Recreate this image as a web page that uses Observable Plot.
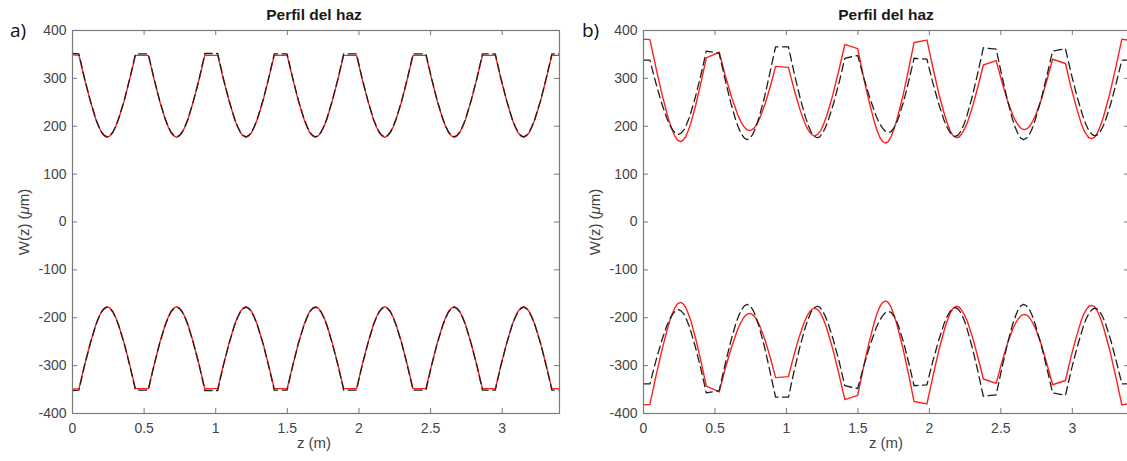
<!DOCTYPE html>
<html>
<head>
<meta charset="utf-8">
<script src="https://cdn.jsdelivr.net/npm/d3@7"></script>
<script src="https://cdn.jsdelivr.net/npm/@observablehq/plot@0.6"></script>
<style>
  html, body { margin: 0; padding: 0; background: #fff; overflow: hidden; }
  #wrap { position: relative; width: 1127px; height: 461px; overflow: hidden; background: #fff; }
  #wrap > svg.panel { position: absolute; top: 0; }
  #overlay { position: absolute; left: 0; top: 0; pointer-events: none; }
</style>
</head>
<body>
<div id="wrap"></div>
<script>
// ---------- data ----------
const xTicks = [0, 0.5, 1, 1.5, 2, 2.5, 3];
const yTicks = [-400, -300, -200, -100, 0, 100, 200, 300, 400];
const panelTitle = "Perfil del haz";
const panelTags = ["a)", "b)"];

// panel a) : beam radius W(z) (upper edge; lower edge is its mirror)
const zA = [0, 0.045,
  0.084, 0.124, 0.163, 0.183, 0.203, 0.222, 0.242, 0.262, 0.282, 0.301, 0.321, 0.361, 0.400, 0.4395, 0.5295,
  0.569, 0.608, 0.648, 0.668, 0.687, 0.707, 0.727, 0.747, 0.766, 0.786, 0.806, 0.845, 0.885, 0.924, 1.014,
  1.053, 1.093, 1.132, 1.152, 1.172, 1.191, 1.211, 1.231, 1.251, 1.270, 1.290, 1.330, 1.369, 1.4085, 1.4985,
  1.538, 1.577, 1.617, 1.637, 1.656, 1.676, 1.696, 1.716, 1.735, 1.755, 1.775, 1.814, 1.854, 1.893, 1.983,
  2.022, 2.062, 2.101, 2.121, 2.141, 2.160, 2.180, 2.200, 2.220, 2.239, 2.259, 2.299, 2.338, 2.3775, 2.4675,
  2.507, 2.546, 2.586, 2.606, 2.625, 2.645, 2.665, 2.685, 2.704, 2.724, 2.744, 2.783, 2.823, 2.862, 2.952,
  2.991, 3.031, 3.070, 3.090, 3.110, 3.129, 3.149, 3.169, 3.189, 3.208, 3.228, 3.268, 3.307, 3.3465, 3.4];
const wA_black = [352, 351,
  300, 254, 215, 200, 188, 181, 178, 181, 188, 200, 215, 254, 300, 351, 351,
  300, 254, 215, 200, 188, 181, 178, 181, 188, 200, 215, 254, 300, 352, 352,
  300, 254, 215, 200, 188, 181, 178, 181, 188, 200, 215, 254, 300, 351, 351,
  300, 254, 215, 200, 188, 181, 178, 181, 188, 200, 215, 254, 300, 351, 351,
  300, 254, 215, 200, 188, 181, 178, 181, 188, 200, 215, 254, 300, 351, 351,
  300, 254, 215, 200, 188, 181, 178, 181, 188, 200, 215, 254, 300, 351, 351,
  300, 254, 215, 200, 188, 181, 178, 181, 188, 200, 215, 254, 300, 351, 351];
const wA_red = [349, 348,
  299, 253, 214, 199, 187, 180, 177, 180, 187, 199, 214, 253, 299, 348, 348,
  299, 253, 214, 199, 187, 180, 177, 180, 187, 199, 214, 253, 299, 348, 348,
  299, 253, 214, 199, 187, 180, 177, 180, 187, 199, 214, 253, 299, 348, 348,
  299, 253, 214, 199, 187, 180, 177, 180, 187, 199, 214, 253, 299, 348, 348,
  299, 253, 214, 199, 187, 180, 177, 180, 187, 199, 214, 253, 299, 348, 348,
  299, 253, 214, 199, 187, 180, 177, 180, 187, 199, 214, 253, 299, 348, 348,
  299, 253, 214, 199, 187, 180, 177, 180, 187, 199, 214, 253, 299, 348, 348];

// panel b) : red (solid) and black (dashed) beams
const zB_red = [0, 0.045,
  0.088, 0.131, 0.173, 0.195, 0.216, 0.238, 0.259, 0.277, 0.295, 0.313, 0.331, 0.367, 0.403, 0.4395, 0.5295,
  0.572, 0.615, 0.658, 0.679, 0.700, 0.722, 0.743, 0.761, 0.779, 0.797, 0.815, 0.852, 0.888, 0.924, 1.014,
  1.051, 1.088, 1.124, 1.143, 1.161, 1.180, 1.198, 1.219, 1.240, 1.261, 1.282, 1.324, 1.366, 1.4085, 1.4985,
  1.537, 1.576, 1.615, 1.634, 1.653, 1.673, 1.692, 1.712, 1.732, 1.752, 1.772, 1.813, 1.853, 1.893, 1.983,
  2.025, 2.066, 2.108, 2.129, 2.149, 2.170, 2.191, 2.210, 2.228, 2.247, 2.266, 2.303, 2.340, 2.3775, 2.4675,
  2.507, 2.546, 2.585, 2.605, 2.625, 2.644, 2.664, 2.684, 2.704, 2.723, 2.743, 2.783, 2.822, 2.862, 2.952,
  2.988, 3.025, 3.061, 3.079, 3.098, 3.116, 3.134, 3.155, 3.177, 3.198, 3.219, 3.262, 3.304, 3.3465, 3.4];
const wB_red = [382, 381,
  321, 265, 217, 197, 181, 171, 168, 171, 178, 191, 206, 246, 292, 343, 355,
  306, 262, 225, 211, 200, 193, 191, 193, 198, 207, 218, 248, 284, 325, 323,
  280, 241, 210, 197, 188, 182, 180, 183, 191, 205, 222, 265, 316, 371, 362,
  306, 254, 209, 191, 177, 168, 165, 168, 178, 194, 213, 261, 316, 375, 380,
  322, 268, 222, 203, 188, 179, 176, 178, 185, 195, 208, 242, 283, 328, 337,
  293, 254, 222, 210, 201, 195, 193, 195, 201, 211, 223, 256, 296, 340, 331,
  285, 243, 207, 193, 183, 176, 174, 177, 187, 202, 221, 268, 323, 382, 379];
const zB_black = [0, 0.045,
  0.085, 0.125, 0.165, 0.185, 0.205, 0.225, 0.245, 0.264, 0.284, 0.303, 0.323, 0.362, 0.401, 0.4395, 0.5295,
  0.569, 0.608, 0.647, 0.667, 0.687, 0.706, 0.726, 0.746, 0.766, 0.785, 0.805, 0.845, 0.884, 0.924, 1.014,
  1.054, 1.094, 1.134, 1.154, 1.174, 1.194, 1.214, 1.233, 1.253, 1.272, 1.292, 1.331, 1.370, 1.4085, 1.4985,
  1.542, 1.585, 1.628, 1.650, 1.672, 1.693, 1.715, 1.733, 1.751, 1.768, 1.786, 1.822, 1.857, 1.893, 1.983,
  2.023, 2.063, 2.102, 2.122, 2.142, 2.162, 2.182, 2.202, 2.221, 2.241, 2.260, 2.299, 2.338, 2.3775, 2.4675,
  2.506, 2.544, 2.582, 2.602, 2.621, 2.640, 2.659, 2.679, 2.700, 2.720, 2.740, 2.781, 2.821, 2.862, 2.952,
  2.993, 3.034, 3.075, 3.096, 3.116, 3.137, 3.157, 3.176, 3.195, 3.214, 3.233, 3.271, 3.308, 3.3465, 3.4];
const wB_black = [338, 338,
  292, 250, 215, 202, 192, 185, 183, 186, 193, 205, 220, 260, 306, 357, 352,
  300, 252, 211, 195, 183, 175, 172, 175, 184, 197, 215, 259, 311, 366, 366,
  311, 261, 218, 201, 187, 179, 176, 178, 186, 197, 212, 249, 293, 342, 348,
  300, 257, 221, 207, 196, 189, 187, 189, 196, 206, 219, 254, 296, 342, 340,
  292, 249, 213, 199, 188, 181, 179, 182, 190, 203, 219, 261, 310, 364, 361,
  307, 257, 214, 197, 183, 175, 172, 175, 183, 196, 213, 255, 304, 357, 362,
  309, 261, 220, 203, 191, 183, 180, 182, 189, 199, 213, 249, 291, 338, 338];

// ---------- build ----------
const rows = (zs, ws) => zs.map((z, i) => ({z, w: ws[i]}));
const wrap = document.getElementById("wrap");

const H = 461, MT = 30, MB = 48, FH = H - MT - MB;
const AXIS = "#7a7a7a", RED = "#ff1f1f", BLACK = "#1e1e1e";

function panel(blackRows, redRows, {left, width, marginLeft, marginRight}) {
  const FW = width - marginLeft - marginRight;
  const lineStyles = [
    [redRows, {stroke: RED, strokeWidth: 1.4}],
    [blackRows, {stroke: BLACK, strokeWidth: 1.3, strokeDasharray: "8,4.5"}]
  ];
  const marks = [];
  for (const [data, st] of lineStyles) {
    marks.push(Plot.line(data, {x: "z", y: "w", ...st}));
    marks.push(Plot.line(data, {x: "z", y: d => -d.w, ...st}));
  }
  marks.push(
    Plot.tickX(xTicks, {x: d => d, insetTop: FH - 5, stroke: AXIS}),
    Plot.tickX(xTicks, {x: d => d, insetBottom: FH - 5, stroke: AXIS}),
    Plot.tickY(yTicks, {y: d => d, insetRight: FW - 5, stroke: AXIS}),
    Plot.tickY(yTicks, {y: d => d, insetLeft: FW - 5, stroke: AXIS}),
    Plot.frame({stroke: AXIS, strokeWidth: 1.2})
  );
  const svg = Plot.plot({
    width, height: H,
    marginLeft, marginRight, marginTop: MT, marginBottom: MB,
    style: {fontFamily: "'Liberation Sans', Arial, Helvetica, sans-serif", fontSize: "14px", color: "#444", background: "transparent"},
    x: {domain: [0, 3.4], ticks: xTicks, tickSize: 0, tickPadding: 10, tickFormat: d => String(d), label: null},
    y: {domain: [-400, 400], ticks: yTicks, tickSize: 0, tickPadding: 6, tickFormat: d => String(d), label: null},
    marks
  });
  svg.classList.add("panel");
  svg.style.left = left + "px";
  wrap.appendChild(svg);
}

panel(rows(zA, wA_black), rows(zA, wA_red), {left: 0, width: 563, marginLeft: 72, marginRight: 4});
panel(rows(zB_black, wB_black), rows(zB_red, wB_red), {left: 572, width: 560, marginLeft: 71, marginRight: 3});

// ---------- overlay texts ----------
const ov = d3.select(wrap).append("svg").attr("id", "overlay").attr("width", 1127).attr("height", 461);
const fontMain = "'Liberation Sans', Arial, Helvetica, sans-serif";
const panels = [{x0: 0, cx: 314, tagX: 10}, {x0: 571, cx: 886, tagX: 582}];
panels.forEach((p, i) => {
  ov.append("text").attr("x", p.tagX).attr("y", 37).attr("font-family", "'Open Sans', sans-serif")
    .attr("font-size", 19).attr("fill", "#111").text(panelTags[i]);
  ov.append("text").attr("x", p.cx).attr("y", 20).attr("text-anchor", "middle")
    .attr("font-family", fontMain).attr("font-size", 15.5).attr("font-weight", "bold").attr("fill", "#1a1a1a")
    .text(panelTitle);
  ov.append("text").attr("x", p.cx).attr("y", 448).attr("text-anchor", "middle")
    .attr("font-family", fontMain).attr("font-size", 15).attr("fill", "#444").text("z (m)");
  const yl = ov.append("text").attr("transform", `translate(${p.x0 + 29},222) rotate(-90)`)
    .attr("text-anchor", "middle").attr("font-family", fontMain).attr("font-size", 15).attr("fill", "#444");
  yl.append("tspan").text("W(z) (");
  yl.append("tspan").attr("font-style", "italic").text("μ");
  yl.append("tspan").text("m)");
});
</script>
</body>
</html>
